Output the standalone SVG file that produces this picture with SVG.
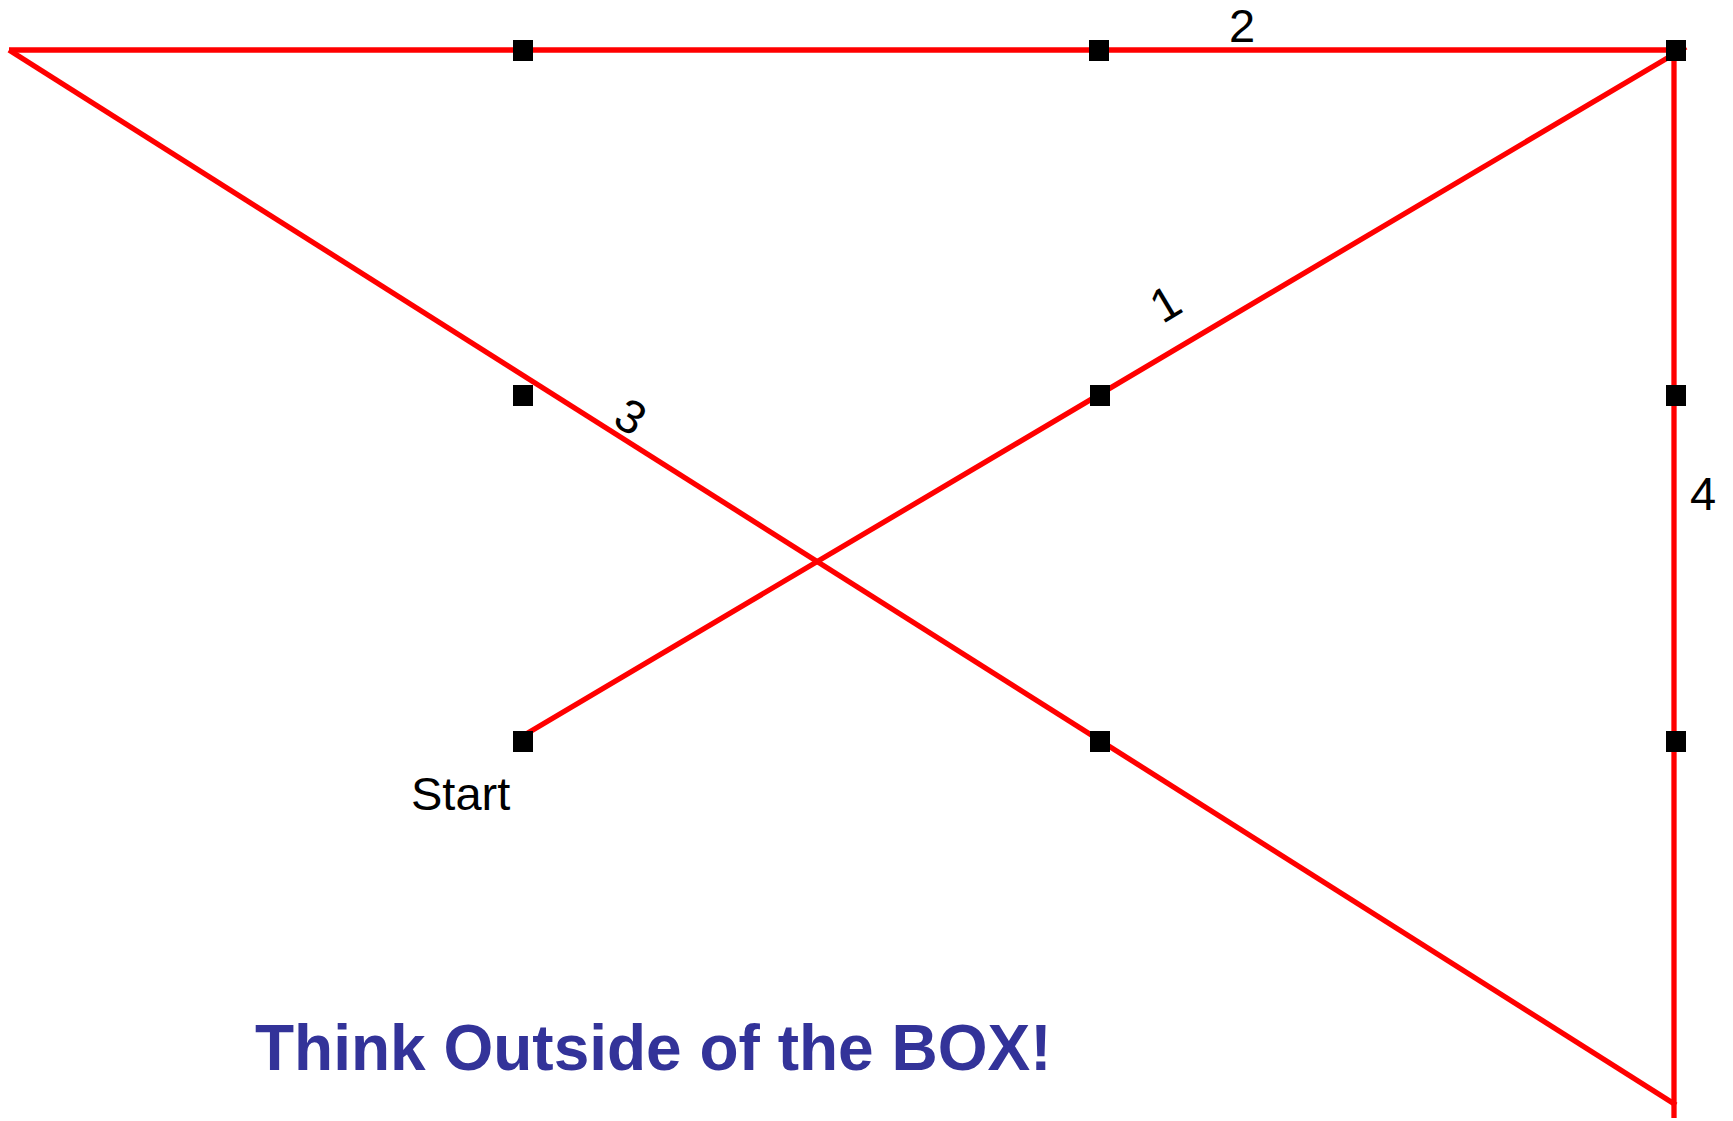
<svg xmlns="http://www.w3.org/2000/svg" width="1733" height="1121" viewBox="0 0 1733 1121">
<style>
.dot{fill:#000}
.ln{stroke:#ff0000;stroke-width:5.3;fill:none;stroke-linecap:butt}
.lbl{font-family:"Liberation Sans",Arial,sans-serif;font-size:47px;fill:#000}
.title{font-family:"Liberation Sans",Arial,sans-serif;font-size:64px;font-weight:bold;fill:#333399}
</style>
<rect width="1733" height="1121" fill="#fff"/>
<g id="connectors">
<line class="ln" x1="521" y1="737" x2="1686" y2="47"/>
<line class="ln" x1="1681" y1="50" x2="9" y2="50"/>
<line class="ln" x1="9" y1="50" x2="1676" y2="1105"/>
<line class="ln" x1="1674" y1="50" x2="1674" y2="1118"/>
</g>
<g id="dots">
<g id="n11"><rect class="dot" x="513" y="40" width="20" height="21"/></g>
<g id="n12"><rect class="dot" x="1089" y="40" width="20" height="21"/></g>
<g id="n13"><rect class="dot" x="1666" y="40" width="20" height="21"/></g>
<g id="n21"><rect class="dot" x="513" y="385" width="20" height="21"/></g>
<g id="n22"><rect class="dot" x="1090" y="385" width="20" height="21"/></g>
<g id="n23"><rect class="dot" x="1666" y="385" width="20" height="21"/></g>
<g id="n31"><rect class="dot" x="513" y="731" width="20" height="21"/></g>
<g id="n32"><rect class="dot" x="1090" y="731" width="20" height="21"/></g>
<g id="n33"><rect class="dot" x="1666" y="731" width="20" height="21"/></g>
</g>
<g id="labels">
<text class="lbl" x="411" y="810">Start</text>
<text class="lbl" x="1229" y="42">2</text>
<text class="lbl" x="1690" y="510">4</text>
<text class="lbl" text-anchor="middle" transform="translate(1165 303) rotate(-31)" x="0" y="17">1</text>
<text class="lbl" text-anchor="middle" transform="translate(631 416) rotate(32)" x="0" y="17">3</text>
</g>
<text class="title" x="255" y="1070">Think Outside of the BOX!</text>
</svg>
